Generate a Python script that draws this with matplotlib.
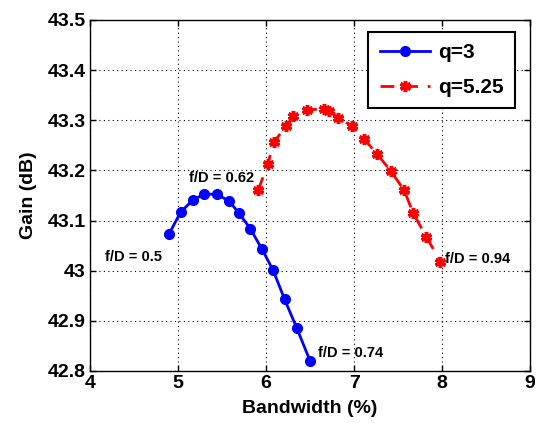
import matplotlib
matplotlib.use("Agg")
import matplotlib.pyplot as plt

bw_q3 = [4.90, 5.03, 5.17, 5.30, 5.44, 5.58, 5.69, 5.82, 5.95, 6.08, 6.21, 6.35, 6.50]
gain_q3 = [43.074, 43.117, 43.141, 43.153, 43.152, 43.139, 43.115, 43.084, 43.044, 43.001, 42.943, 42.885, 42.820]

bw_q525 = [5.91, 6.02, 6.09, 6.23, 6.31, 6.46, 6.66, 6.72, 6.82, 6.98, 7.11, 7.26, 7.42, 7.57, 7.67, 7.82, 7.98]
gain_q525 = [43.160, 43.213, 43.257, 43.288, 43.309, 43.320, 43.323, 43.319, 43.305, 43.288, 43.263, 43.233, 43.198, 43.160, 43.115, 43.068, 43.018]

annotations = [("f/D = 0.5", 4.17, 43.028), ("f/D = 0.62", 5.12, 43.184),
               ("f/D = 0.74", 6.59, 42.836), ("f/D = 0.94", 8.03, 43.024)]

plt.rcParams['font.family'] = ['Liberation Sans', 'DejaVu Sans']
fig = plt.figure(figsize=(5.36, 4.23), dpi=100)
ax = fig.add_axes([0.168, 0.123, 0.821, 0.830])

ax.plot(bw_q3, gain_q3, '-', color='#0000ff', lw=2, marker='o', ms=7, label='q=3')
ax.plot(bw_q525, gain_q525, '--', color='#ff0000', lw=2, marker=(6, 2, 0), ms=8, mew=2.5,
        dashes=(5, 3.5), label='q=5.25')

for txt, x, y in annotations:
    ax.text(x, y, txt, fontsize=10.5, fontweight='bold', va='center', ha='left')

ax.set_xlim(4, 9)
ax.set_ylim(42.8, 43.5)
ax.set_xticks([4, 5, 6, 7, 8, 9])
ax.set_yticks([42.8, 42.9, 43.0, 43.1, 43.2, 43.3, 43.4, 43.5])
ax.set_yticklabels(['42.8', '42.9', '43', '43.1', '43.2', '43.3', '43.4', '43.5'])
ax.grid(True, color='black', linestyle=(0, (1, 3)), linewidth=0.8)
ax.tick_params(direction='in', labelsize=14, width=1, length=4, top=True, right=True, pad=3)
for lab in ax.get_xticklabels() + ax.get_yticklabels():
    lab.set_fontweight('bold')
for s in ax.spines.values():
    s.set_linewidth(1)

ax.set_xlabel('Bandwidth (%)', fontsize=14, fontweight='bold', labelpad=6)
ax.set_ylabel('Gain (dB)', fontsize=14, fontweight='bold', labelpad=8)

leg = ax.legend(loc='upper right', bbox_to_anchor=(0.966, 0.966), borderaxespad=0,
                fancybox=False, framealpha=1, edgecolor='black',
                prop={'size': 15, 'weight': 'bold'}, handlelength=2.4, borderpad=0.55,
                handletextpad=0.4, labelspacing=0.75)
leg.get_frame().set_linewidth(1.5)

fig.savefig('out.png', dpi=100)
